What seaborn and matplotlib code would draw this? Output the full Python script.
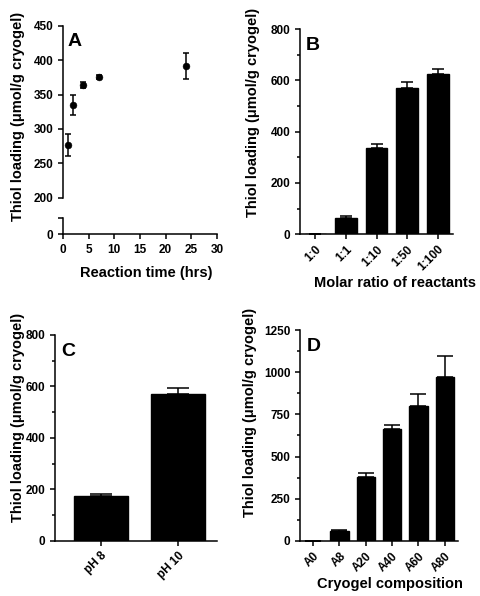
import numpy as np
import pandas as pd
import matplotlib
matplotlib.use("Agg")
import matplotlib.pyplot as plt
import seaborn as sns

# data
time_hrs = [1, 2, 4, 7, 24]
loading_time = [277, 335, 364, 375, 391]
loading_time_err = [16, 14.5, 4.5, 3, 19]

ratio_labels = ["1:0", "1:1", "1:10", "1:50", "1:100"]
loading_ratio = [0, 64, 337, 571, 626]
loading_ratio_err = [0, 6, 16, 24, 20]

ph_labels = ["pH 8", "pH 10"]
loading_ph = [174, 570]
loading_ph_err = [8, 22]

comp_labels = ["A0", "A8", "A20", "A40", "A60", "A80"]
loading_comp = [0, 59, 380, 666, 800, 973]
loading_comp_err = [0, 4, 24, 24, 71, 123]

ylab = "Thiol loading (\u03bcmol/g cryogel)"

sns.set_style("ticks")
plt.rcParams["font.family"] = ["Liberation Sans", "DejaVu Sans"]
plt.rcParams["font.weight"] = "bold"
plt.rcParams["axes.labelweight"] = "bold"
plt.rcParams["text.color"] = "black"
plt.rcParams["axes.labelcolor"] = "black"
plt.rcParams["axes.linewidth"] = 1.1
plt.rcParams["xtick.major.width"] = 1.1
plt.rcParams["ytick.major.width"] = 1.1
plt.rcParams["ytick.minor.width"] = 1.1
plt.rcParams["xtick.major.size"] = 3.5
plt.rcParams["ytick.major.size"] = 3.5
plt.rcParams["ytick.minor.size"] = 2.5
plt.rcParams["xtick.labelsize"] = 8.5
plt.rcParams["ytick.labelsize"] = 8.5
plt.rcParams["axes.labelsize"] = 10.5
plt.rcParams["xtick.color"] = "black"
plt.rcParams["ytick.color"] = "black"
plt.rcParams["axes.edgecolor"] = "black"

fig = plt.figure(figsize=(4.8, 5.96), dpi=100)

# ---- panel A (broken y axis) ----
axA = fig.add_axes([0.131, 0.668, 0.321, 0.289])
axA0 = fig.add_axes([0.131, 0.607, 0.321, 0.027])
df_time = pd.DataFrame({"t": time_hrs, "y": loading_time, "e": loading_time_err})
sns.scatterplot(data=df_time, x="t", y="y", color="black", s=24, edgecolor="black", ax=axA, zorder=3)
axA.errorbar(df_time["t"], df_time["y"], yerr=df_time["e"], fmt="none", ecolor="black",
             elinewidth=1.1, capsize=2.5, capthick=1.1)
axA.set_xlim(0, 30)
axA.set_ylim(200, 450)
axA.set_yticks(np.arange(200, 451, 50))
axA.spines[["top", "right", "bottom"]].set_visible(False)
axA.set_xticks([])
axA.set_xlabel("")
axA.set_ylabel(ylab)
axA.yaxis.set_label_coords(-0.247, 0.47)
axA.text(0.03, 0.96, "A", transform=axA.transAxes, fontsize=14, fontweight="bold", va="top")

axA0.set_xlim(0, 30)
axA0.set_ylim(0, 23)
axA0.set_yticks([0, 23])
axA0.set_yticklabels(["0", ""])
axA0.set_xticks(np.arange(0, 31, 5))
axA0.spines[["top", "right"]].set_visible(False)
axA0.set_xlabel("Reaction time (hrs)")
axA0.xaxis.set_label_coords(0.54, -2.0)


def bar_panel(ax, labels, vals, errs, ymax, major, minor, capsize, letter, xlabel):
    df = pd.DataFrame({"grp": labels, "val": vals})
    sns.barplot(data=df, x="grp", y="val", color="black", width=0.7, ax=ax,
                saturation=1, errorbar=None)
    for p in ax.patches:
        p.set_facecolor("black")
        p.set_edgecolor("black")
    x = np.arange(len(labels))
    ax.errorbar(x, vals, yerr=[np.zeros(len(errs)), errs], fmt="none", ecolor="black",
                elinewidth=1.1, capsize=capsize, capthick=1.1)
    ax.set_xlim(-0.5, len(labels) - 0.5)
    ax.set_ylim(0, ymax)
    ax.set_yticks(np.arange(0, ymax + 1, major))
    ax.set_yticks(np.arange(minor, ymax, major), minor=True)
    ax.spines[["top", "right"]].set_visible(False)
    ax.tick_params(axis="x", length=3.5, pad=3)
    plt.setp(ax.get_xticklabels(), rotation=45, ha="right", va="top", rotation_mode="anchor")
    ax.set_ylabel(ylab)
    ax.set_xlabel(xlabel)
    ax.text(0.04, 0.96, letter, transform=ax.transAxes, fontsize=14, fontweight="bold", va="top")


axB = fig.add_axes([0.625, 0.607, 0.319, 0.344])
bar_panel(axB, ratio_labels, loading_ratio, loading_ratio_err, 800, 200, 100, 4.5, "B",
          "Molar ratio of reactants")
axB.yaxis.set_label_coords(-0.26, 0.595)
axB.xaxis.set_label_coords(0.62, -0.205)

axC = fig.add_axes([0.115, 0.0923, 0.3375, 0.346])
bar_panel(axC, ph_labels, loading_ph, loading_ph_err, 800, 200, 100, 8, "C", "")
axC.set_xlim(-0.59, 1.51)
axC.yaxis.set_label_coords(-0.185, 0.597)

axD = fig.add_axes([0.625, 0.0923, 0.329, 0.354])
bar_panel(axD, comp_labels, loading_comp, loading_comp_err, 1250, 250, 125, 6, "D",
          "Cryogel composition")
axD.yaxis.set_label_coords(-0.27, 0.61)
axD.xaxis.set_label_coords(0.57, -0.17)

fig.savefig("out.png", dpi=100)
